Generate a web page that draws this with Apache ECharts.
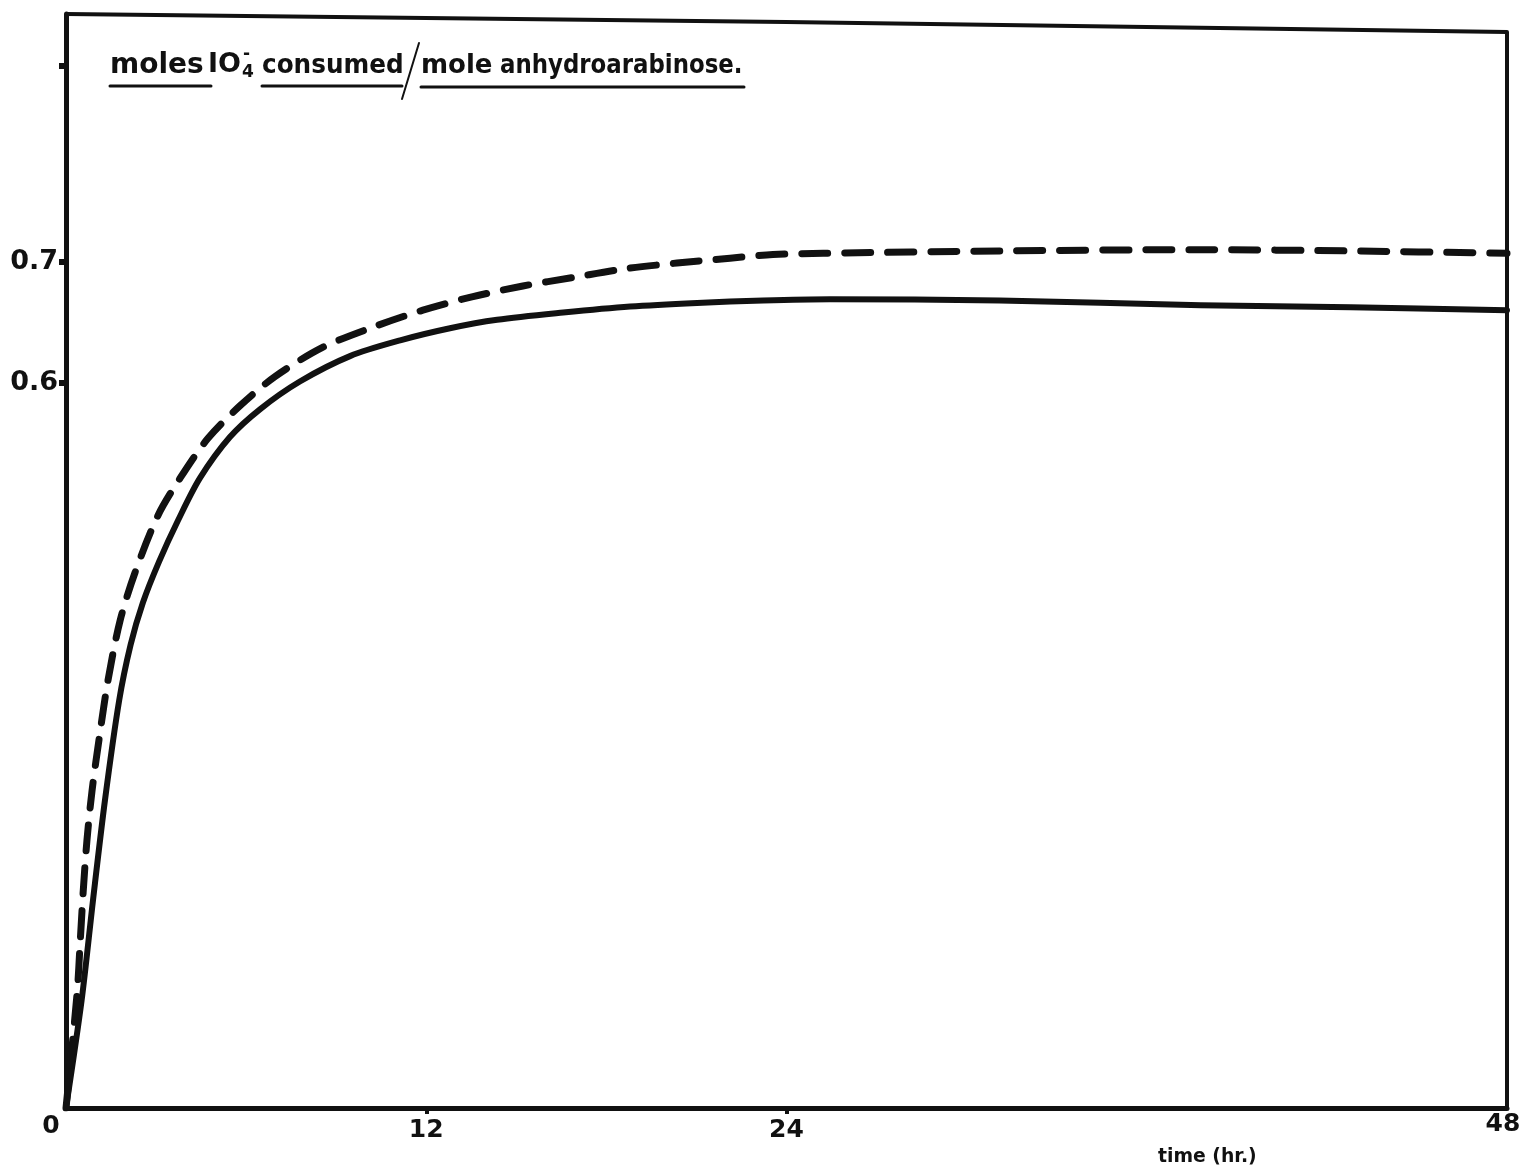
<!DOCTYPE html>
<html>
<head>
<meta charset="utf-8">
<title>Periodate consumption of anhydroarabinose</title>
<script src="https://cdn.jsdelivr.net/npm/echarts@6/dist/echarts.min.js"></script>
<style>
  html, body { margin: 0; padding: 0; background: #ffffff; }
  #chart { width: 1529px; height: 1176px; }
</style>
</head>
<body>
<div id="chart"></div>
<script>
// time (hr) and moles IO4- consumed per mole anhydroarabinose
const solidTime   = [0, 0.52, 0.90, 1.30, 1.77, 2.15, 2.56, 3.10, 3.73, 4.46, 5.46, 6.46, 7.79, 9.46, 11.13, 12.79, 14.36, 16.56, 18.79, 21.02, 23.22, 25.45, 31.1, 37.8, 42.8, 48];
const solidValues = [0, 0.089, 0.172, 0.255, 0.337, 0.383, 0.418, 0.452, 0.486, 0.521, 0.555, 0.578, 0.601, 0.622, 0.635, 0.645, 0.652, 0.658, 0.663, 0.666, 0.668, 0.669, 0.668, 0.664, 0.6625, 0.660];

const dashedTime   = [0, 0.37, 0.47, 0.57, 0.70, 0.87, 1.13, 1.40, 1.80, 2.30, 3.06, 3.80, 4.73, 5.80, 6.96, 8.53, 10.23, 11.89, 13.52, 15.22, 16.89, 18.55, 20.35, 22.12, 23.55, 25.22, 31.1, 37.8, 42.8, 48];
const dashedValues = [0, 0.095, 0.136, 0.178, 0.222, 0.263, 0.310, 0.354, 0.403, 0.443, 0.490, 0.521, 0.554, 0.581, 0.605, 0.629, 0.646, 0.660, 0.671, 0.680, 0.687, 0.694, 0.699, 0.703, 0.706, 0.707, 0.709, 0.710, 0.709, 0.707];

const xTickLabels = [0, 12, 24, 48];
const yTickLabels = [0.6, 0.7];
const yTopMark = 0.862;

const INK = '#111111';
const FONT = '"DejaVu Sans", "Liberation Sans", sans-serif';

const pairs = (xs, ys) => xs.map((x, i) => [x, ys[i]]);

const chart = echarts.init(document.getElementById('chart'), null, { renderer: 'canvas' });

function word(text, x, y, size, sx) {
  return {
    type: 'text', left: x, top: y,
    scaleX: sx || 1,
    style: { text: text, fill: INK, font: 'bold ' + size + 'px ' + FONT }
  };
}
function rule(x1, y1, x2, y2, w) {
  return {
    type: 'line',
    shape: { x1: x1, y1: y1, x2: x2, y2: y2 },
    style: { stroke: INK, lineWidth: w, lineCap: 'round' }
  };
}

chart.setOption({
  backgroundColor: '#ffffff',
  animation: false,
  grid: { left: 66, right: 22, top: 14, bottom: 68, containLabel: false },
  xAxis: {
    type: 'value', min: 0, max: 48,
    axisLine: { show: true, lineStyle: { color: INK, width: 5 } },
    axisTick: { show: true, customValues: [12, 24], length: 6, lineStyle: { color: INK, width: 4 } },
    axisLabel: {
      customValues: xTickLabels,
      margin: 10,
      color: INK,
      fontFamily: FONT, fontWeight: 'bold', fontSize: 25,
      formatter: function (v) {
        if (v === 0) return '{o|0}';
        if (v === 48) return '{e|48}';
        return String(v);
      },
      rich: {
        o: { fontFamily: FONT, fontWeight: 'bold', fontSize: 25, color: INK, padding: [-4, 30, 0, 0] },
        e: { fontFamily: FONT, fontWeight: 'bold', fontSize: 25, color: INK, padding: [-6, 8, 0, 0] }
      }
    },
    splitLine: { show: false }
  },
  yAxis: {
    type: 'value', min: 0, max: 0.905,
    axisLine: { show: true, lineStyle: { color: INK, width: 5 } },
    axisTick: { show: true, customValues: [0.6, 0.7, yTopMark], length: 7, lineStyle: { color: INK, width: 6 } },
    axisLabel: {
      customValues: yTickLabels,
      margin: 8,
      color: INK,
      fontFamily: FONT, fontWeight: 'bold', fontSize: 27,
      formatter: function (v) { return v.toFixed(1); }
    },
    splitLine: { show: false }
  },
  series: [
    {
      name: 'solid', type: 'line',
      data: pairs(solidTime, solidValues),
      smooth: 0.3,
      showSymbol: false,
      lineStyle: { color: INK, width: 6, cap: 'round', join: 'round' }
    },
    {
      name: 'dashed', type: 'line',
      data: pairs(dashedTime, dashedValues),
      smooth: 0.3,
      showSymbol: false,
      lineStyle: { color: INK, width: 7, type: [26, 17], cap: 'round', join: 'round' }
    }
  ],
  graphic: [
    // top and right edges of the frame
    {
      type: 'polyline',
      shape: { points: [[66, 14], [786, 22], [1507, 32], [1507, 1108]] },
      style: { stroke: INK, lineWidth: 4, fill: null, lineJoin: 'round' }
    },
    // y-axis title
    word('moles', 110, 52, 28),
    word('IO', 208, 51, 27),
    word('4', 242, 64, 17),
    word('-', 243, 46, 17),
    word('consumed', 262, 53, 26, 0.95),
    word('mole', 421, 53, 26),
    word('anhydroarabinose.', 500, 53, 26, 0.88),
    rule(110, 86, 211, 86, 3),
    rule(262, 86, 402, 86, 3),
    rule(421, 87, 744, 87, 3),
    rule(402, 99, 419, 43, 2),
    // x-axis title
    word('time (hr.)', 1158, 1147, 20, 0.94)
  ]
});
</script>
</body>
</html>
